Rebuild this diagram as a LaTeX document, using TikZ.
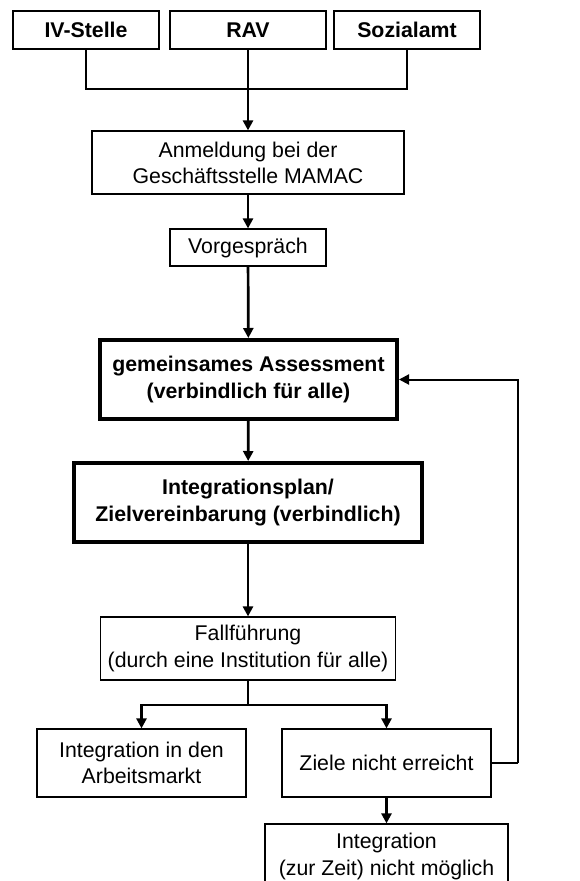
\documentclass[tikz,border=0pt]{standalone}
\usepackage{fontspec}
\setmainfont{Liberation Sans}
\usetikzlibrary{arrows.meta}
\begin{document}
\begin{tikzpicture}[x=1pt, y=-1pt]

      \tikzset{box/.style={draw, rectangle, align=center, inner sep=0pt, line width=1.2pt, font=\fontsize{21.3}{26.2}\selectfont},
               topbox/.style={box, line width=1.8pt, minimum height=38pt, font=\fontsize{21.3}{26.2}\selectfont\bfseries},
               keybox/.style={box, line width=4pt, minimum height=79pt, font=\fontsize{21.3}{26.7}\selectfont\bfseries},
               flow/.style={line width=2.7pt},
               arr/.style={flow, -{Triangle[length=10pt, width=10pt]}}}
      \useasboundingbox (0,0) rectangle (579,881);
%% Boxes
      	\node[topbox, minimum width=146pt] (ivst) at (86,30) {IV-Stelle};
      	\node[topbox, minimum width=156pt] (rav) at (248,30) {RAV};
      	\node[topbox, minimum width=146pt] (sozial) at (407,30) {Sozialamt};
      	\node[box, minimum width=312pt, minimum height=63pt] (anmeld) at (248,162.5) {Anmeldung bei der\\Geschäftsstelle MAMAC};
      	\node[box, minimum width=156pt, minimum height=37pt] (vorg) at (248,247.5) {Vorgespräch};
      	\node[keybox, minimum width=297pt] (assess) at (248.5,379.5) {gemeinsames Assessment\\(verbindlich für alle)};
      	\node[keybox, minimum width=348pt] (plan) at (248,502.5) {Integrationsplan/\\Zielvereinbarung (verbindlich)};
      	\node[box, minimum width=295pt, minimum height=63pt] (fall) at (248,648.5) {Fallführung\\(durch eine Institution für alle)};
      	\node[box, minimum width=209pt, minimum height=68pt] (arbeit) at (141.5,763) {Integration in den\\Arbeitsmarkt};
      	\node[box, minimum width=209pt, minimum height=68pt] (ziele) at (386.5,763) {Ziele nicht erreicht};
      	\node[box, minimum width=243pt, minimum height=65pt] (nicht) at (386.5,856.5) {Integration\\(zur Zeit) nicht möglich};
%% Joints
      	\coordinate (join) at (248,89);
      	\coordinate (split) at (248,705);
      	\coordinate (back) at (518,763);
%Edges
		\draw [line width=1.3pt] (ivst) |- (join);
		\draw [flow] (sozial) |- (join);
		\draw [arr] (rav) -- (anmeld);
		\draw [arr] (anmeld) -- (vorg);
		\draw [arr] (vorg) -- (assess);
		\draw [arr] (assess) -- (plan);
		\draw [arr] (plan) -- (fall);
		\draw [flow] (fall) -- (split);
		\draw [arr] (split) -| (arbeit);
		\draw [arr] (split) -| (ziele);
		\draw [arr] (ziele) -- (nicht);
		\draw [flow] (ziele) -- (back);
		\draw [line width=2pt, -{Triangle[length=10pt, width=10pt]}] (back) |- (assess);

	\end{tikzpicture}
\end{document}
